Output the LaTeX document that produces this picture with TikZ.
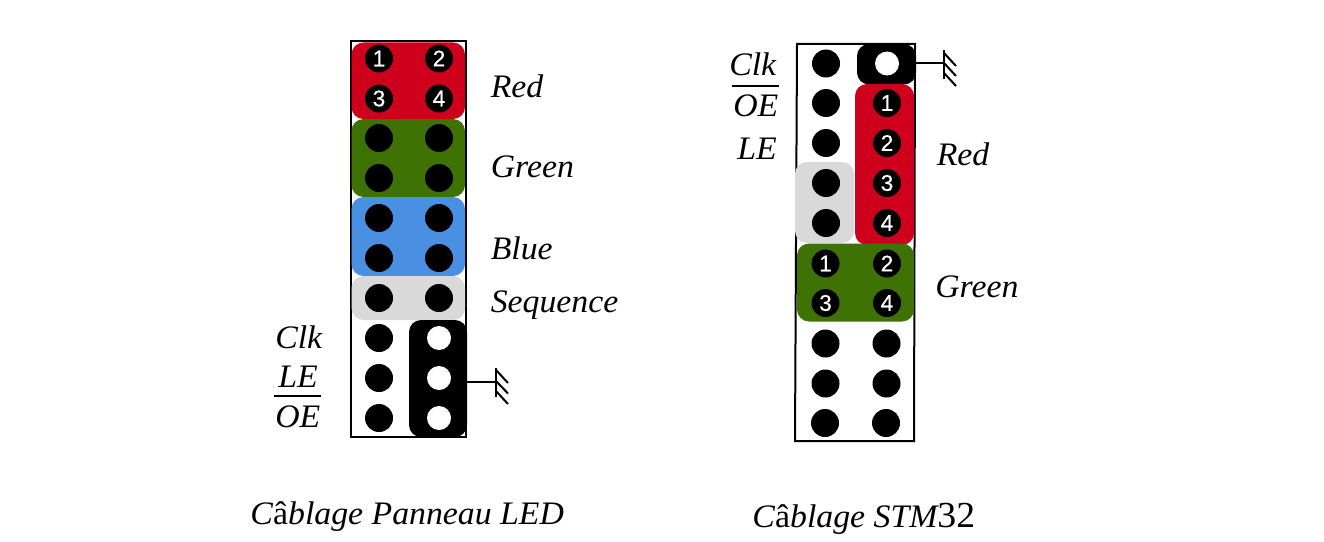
\documentclass[tikz,border=0pt]{standalone}
\usepackage{fontspec}
\setmainfont{Liberation Serif}
\newfontfamily\labfont[FakeStretch=1.03]{Liberation Serif}
\newfontfamily\numfont[FakeBold=0.5]{Liberation Sans}
\definecolor{pinred}{HTML}{CF001C}
\definecolor{pingreen}{HTML}{3F7205}
\definecolor{pinblue}{HTML}{4A90E2}
\definecolor{pingrey}{HTML}{D9D9D9}
\tikzset{
  pin/.style={circle,fill=black,inner sep=0pt,minimum size=21pt,text=white,font=\numfont\fontsize{17}{17}\selectfont},
  hole/.style={circle,fill=white,inner sep=0pt,minimum size=18pt},
  lab/.style={anchor=base west,inner sep=0pt,font=\labfont\itshape\fontsize{24.6}{24.6}\selectfont},
  caption/.style={lab},
  group/.style={rounded corners=9pt},
  boxline/.style={draw=black,line width=1.5pt},
  wire/.style={draw=black,line width=1.5pt},
  bar/.style={draw=black,line width=1.3pt}
}
\begin{document}
\begin{tikzpicture}[x=0.75pt,y=-0.75pt]
\useasboundingbox[fill=white] (0,0) rectangle (1324,542);
% ---------- left connector
\draw[boxline] (350.5,41.5) rectangle (466,437);
\fill[pinred,group] (351.5,42.5) rectangle (465,119);
\fill[pingreen,group] (351.5,119) rectangle (465,197);
\fill[pinblue,group] (351.5,197) rectangle (465,276);
\fill[pingrey,group] (351.5,276) rectangle (465,320);
\fill[black,group] (409,320) rectangle (467,437);
\node[pin] (l1) at (379,58.5) {1};
\node[pin] (l2) at (439,58.5) {2};
\node[pin] (l3) at (379,98.5) {3};
\node[pin] (l4) at (439,98.5) {4};
\node[pin] (l5) at (379,138) {};
\node[pin] (l6) at (439,138) {};
\node[pin] (l7) at (379,178) {};
\node[pin] (l8) at (439,178) {};
\node[pin] (l9) at (379,218) {};
\node[pin] (l10) at (439,218) {};
\node[pin] (l11) at (379,258) {};
\node[pin] (l12) at (439,258) {};
\node[pin] (l13) at (379,298) {};
\node[pin] (l14) at (439,298) {};
\node[pin] (l15) at (379,338) {};
\node[hole] (l16) at (439,338) {};
\node[pin] (l17) at (379,378) {};
\node[hole] (l18) at (439,378) {};
\node[pin] (l19) at (379,418) {};
\node[hole] (l20) at (439,418) {};
\node[lab] (lred) at (490.5,97.5) {Red};
\node[lab] (lgreen) at (490.5,177) {Green};
\node[lab] (lblue) at (490.5,259) {Blue};
\node[lab] (lseq) at (490.5,312.5) {Sequence};
\node[lab] (lclk) at (275,348.5) {Clk};
\node[lab] (lle) at (278,387) {LE};
\node[lab] (loe) at (275,427) {OE};
\coordinate (lbarA) at (273.5,396);
\coordinate (lbarB) at (321,396);
\draw[bar] (lbarA) -- (lbarB);
% left ground
\coordinate (lw0) at (466,381.5);
\coordinate (lw1) at (496,381.5);
\coordinate (lgA) at (496,368);
\coordinate (lgB) at (496,397);
\draw[wire] (lw0) -- (lw1);
\draw[wire] (lgA) -- (lgB);
\draw[wire] (496,370) -- (508,383);
\draw[wire] (496,381) -- (508,393.5);
\draw[wire] (496,391) -- (508,404);
% ---------- right connector
\draw[boxline] (797,44) -- (915,44) -- (914,441) -- (795,441) -- cycle;
\fill[black,group] (857,44) rectangle (916,84.5);
\fill[pinred,group] (855,84) rectangle (914,245);
\fill[pingrey,group] (795,162) rectangle (854,243);
\fill[pingreen,group] (797,243.5) rectangle (914,321.5);
\node[pin] (r1) at (826,63.5) {};
\node[hole] (r2) at (887,63.5) {};
\node[pin] (r3) at (826,103) {};
\node[pin] (r4) at (887,103) {1};
\node[pin] (r5) at (826,143) {};
\node[pin] (r6) at (887,143) {2};
\node[pin] (r7) at (826,183) {};
\node[pin] (r8) at (887,183) {3};
\node[pin] (r9) at (826,223) {};
\node[pin] (r10) at (887,223) {4};
\node[pin] (r11) at (825.5,263.5) {1};
\node[pin] (r12) at (887,263.5) {2};
\node[pin] (r13) at (825.5,303) {3};
\node[pin] (r14) at (887,303) {4};
\node[pin] (r15) at (825.5,343.5) {};
\node[pin] (r16) at (886.5,343.5) {};
\node[pin] (r17) at (825.5,383.5) {};
\node[pin] (r18) at (886.5,383.5) {};
\node[pin] (r19) at (825,423) {};
\node[pin] (r20) at (886,423) {};
\node[lab] (rclk) at (729,75) {Clk};
\node[lab] (roe) at (733,116.5) {OE};
\node[lab] (rle) at (737,159) {LE};
\node[lab] (rred) at (936.5,165) {Red};
\node[lab] (rgreen) at (935,297) {Green};
\coordinate (rbarA) at (731.5,86);
\coordinate (rbarB) at (779,86);
\draw[bar] (rbarA) -- (rbarB);
% right ground
\coordinate (rw0) at (915,63.5);
\coordinate (rw1) at (944,63.5);
\coordinate (rgA) at (944,50);
\coordinate (rgB) at (944,79);
\draw[wire] (rw0) -- (rw1);
\draw[wire] (rgA) -- (rgB);
\draw[wire] (944,53) -- (956,66);
\draw[wire] (944,63) -- (956,76);
\draw[wire] (944,73) -- (956,86);
% ---------- captions
\node[caption] (capl) at (250,524) {C\textup{â}blage Panneau LED};
\node[caption] (capr) at (752,527) {C\textup{â}blage STM{\upshape\fontsize{27.5}{27.5}\selectfont 32}};
\end{tikzpicture}
\end{document}
